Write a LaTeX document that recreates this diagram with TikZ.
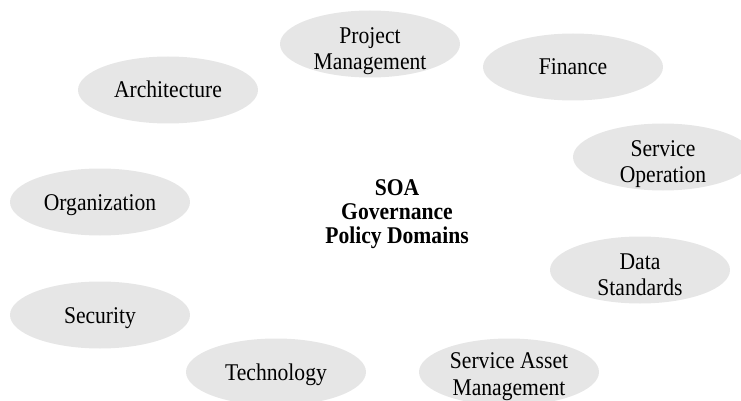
\documentclass[tikz,border=0pt]{standalone}
\usepackage{fontspec}
\setmainfont{Liberation Serif}
\newfontfamily\domainfont[FakeStretch=0.9]{Liberation Serif}
\usetikzlibrary{shapes.geometric}
\definecolor{domaingray}{RGB}{230,230,230}
\newcommand{\twolines}[2]{\begin{tabular}{@{}c@{}}#1\\#2\end{tabular}}
\tikzset{
    domainbox/.style={ellipse, fill=domaingray, minimum width=180pt, minimum height=67pt,
        inner sep=0pt, text height=16pt, text depth=0pt,
        font=\domainfont\fontsize{24}{26.5}\selectfont},
    twoline/.style={text height=26.4pt},
    titletext/.style={align=center, font=\domainfont\bfseries\fontsize{24}{24}\selectfont}
}
\begin{document}
\begin{tikzpicture}[x=1pt,y=-1pt]
        \useasboundingbox (0,0) rectangle (741,401);

        \node[titletext] (soa) at (397,214) {SOA\\Governance\\Policy Domains};

        \node[domainbox,twoline] (pm) at (370,44) {\twolines{Project}{Management}};
        \node[domainbox] (fin) at (573,67) {Finance};
        \node[domainbox] (arch) at (168,90) {Architecture};
        \node[domainbox,twoline] (ops) at (663,157) {\twolines{Service}{Operation}};
        \node[domainbox] (org) at (100,202) {Organization};
        \node[domainbox,twoline] (data) at (640,270) {\twolines{Data}{Standards}};
        \node[domainbox] (sec) at (100,315) {Security};
        \node[domainbox] (tech) at (276,372) {Technology};
        % text sits a little higher here, as in the original
        \node[domainbox,twoline,text height=22pt] (sam) at (509,372) {\twolines{Service Asset}{Management}};
    \end{tikzpicture}
\end{document}
